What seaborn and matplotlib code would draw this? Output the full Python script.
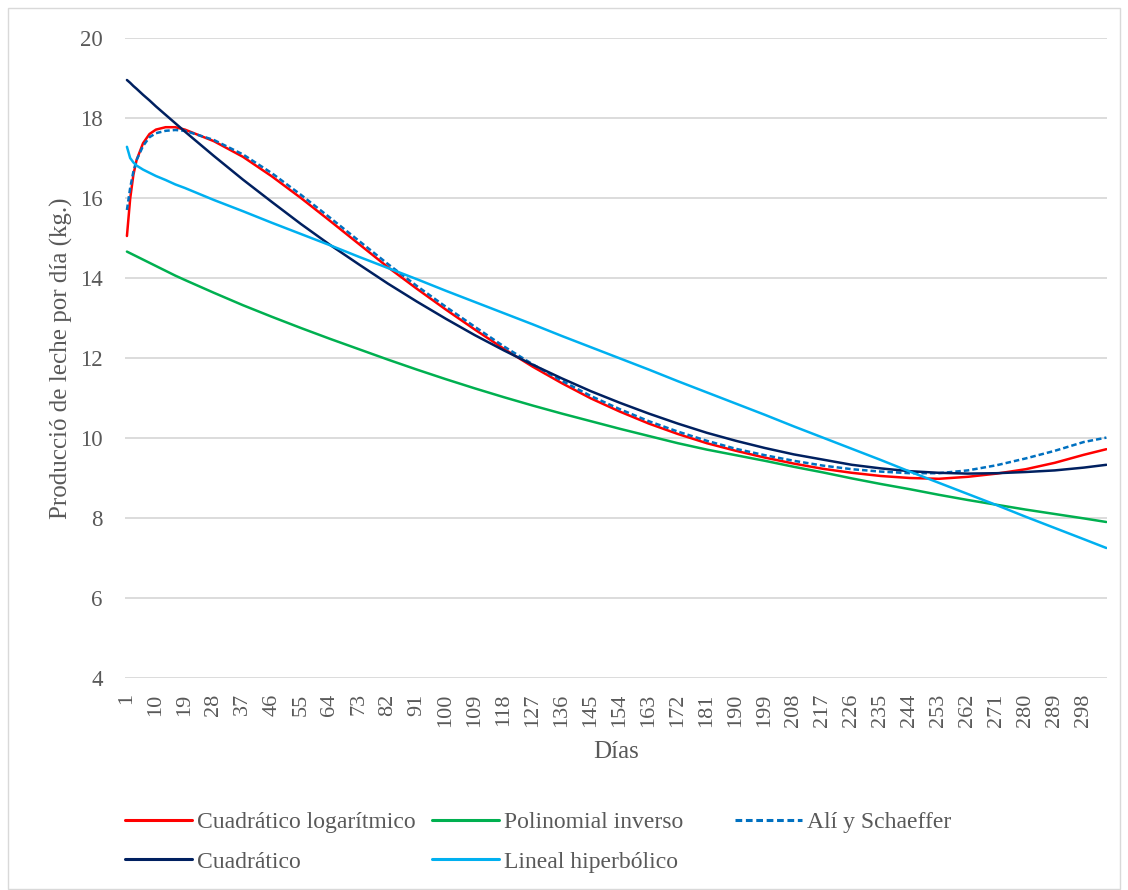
import matplotlib
matplotlib.use("Agg")
import pandas as pd
import seaborn as sns
from matplotlib import pyplot as plt
from matplotlib.lines import Line2D
from matplotlib.patches import Rectangle

dias = [1, 2, 3, 4, 6, 8, 10, 13, 16, 19, 28, 37, 46, 55, 64, 73, 82, 91, 100, 109,
        118, 127, 136, 145, 154, 163, 172, 181, 190, 199, 208, 217, 226, 235, 244, 253,
        262, 271, 280, 289, 298, 305]

cuad_log = [15.05, 15.98, 16.58, 16.95, 17.37, 17.60, 17.71, 17.77, 17.77, 17.71,
            17.42, 17.03, 16.54, 16.00, 15.43, 14.85, 14.27, 13.73, 13.21, 12.71,
            12.23, 11.78, 11.37, 10.99, 10.66, 10.36, 10.10, 9.87, 9.68, 9.51,
            9.36, 9.23, 9.13, 9.05, 9.00, 8.98, 9.03, 9.11, 9.22, 9.38, 9.58, 9.72]

pol_inverso = [14.66, 14.62, 14.58, 14.54, 14.46, 14.38, 14.30, 14.18, 14.06, 13.95,
               13.63, 13.32, 13.03, 12.75, 12.48, 12.22, 11.96, 11.71, 11.47, 11.24,
               11.02, 10.81, 10.61, 10.42, 10.23, 10.05, 9.87, 9.71, 9.57, 9.43,
               9.28, 9.14, 8.99, 8.85, 8.72, 8.58, 8.45, 8.33, 8.21, 8.10, 7.99, 7.90]

ali_schaeffer = [15.70, 16.25, 16.66, 16.95, 17.30, 17.52, 17.62, 17.68, 17.70, 17.68,
                 17.45, 17.09, 16.62, 16.08, 15.51, 14.93, 14.35, 13.80, 13.28, 12.78,
                 12.29, 11.84, 11.43, 11.05, 10.72, 10.42, 10.16, 9.93, 9.73, 9.57,
                 9.43, 9.31, 9.22, 9.16, 9.12, 9.12, 9.19, 9.32, 9.49, 9.68, 9.90, 10.01]

cuadratico = [18.95, 18.88, 18.80, 18.73, 18.58, 18.44, 18.29, 18.08, 17.87, 17.66,
              17.05, 16.46, 15.90, 15.35, 14.83, 14.34, 13.86, 13.41, 12.98, 12.57,
              12.19, 11.83, 11.49, 11.17, 10.88, 10.61, 10.36, 10.13, 9.93, 9.75,
              9.59, 9.46, 9.33, 9.24, 9.17, 9.13, 9.11, 9.12, 9.15, 9.19, 9.26, 9.33]

lineal_hip = [17.28, 17.00, 16.89, 16.81, 16.71, 16.63, 16.55, 16.45, 16.34, 16.25,
              15.95, 15.67, 15.38, 15.10, 14.82, 14.53, 14.25, 13.97, 13.68, 13.40,
              13.12, 12.84, 12.55, 12.27, 11.99, 11.71, 11.42, 11.14, 10.86, 10.58,
              10.29, 10.01, 9.73, 9.45, 9.16, 8.88, 8.60, 8.32, 8.03, 7.75, 7.47, 7.25]

nombres = ["Cuadrático logarítmico", "Polinomial inverso", "Alí y Schaeffer",
           "Cuadrático", "Lineal hiperbólico"]
colores = ["#FF0000", "#00B050", "#0070C0", "#002060", "#00B0F0"]
estilos = ["-", "-", (0, (2.2, 1.2)), "-", "-"]
valores = [cuad_log, pol_inverso, ali_schaeffer, cuadratico, lineal_hip]

sns.set_theme(style="white")
plt.rcParams["font.family"] = ["Liberation Serif", "DejaVu Serif"]
gris = "#595959"

W, H = 1128, 890
fig = plt.figure(figsize=(W / 100, H / 100), dpi=100)
ax = fig.add_axes([125 / W, 1 - 678 / H, 982 / W, 640 / H])

for nombre, vals, color, ls in zip(nombres, valores, colores, estilos):
    df = pd.DataFrame({"Días": dias, "kg": vals})
    sns.lineplot(data=df, x="Días", y="kg", ax=ax, color=color, linewidth=1.8,
                 linestyle=ls, legend=False)

ax.set_xlim(0.4, 305.2)
ax.set_ylim(4, 20)
ax.set_yticks(range(4, 21, 2))
ax.set_xticks(range(1, 299, 9))
ax.tick_params(axis="x", labelrotation=90, pad=11, labelsize=16)
ax.tick_params(axis="y", pad=16, labelsize=16.5)
ax.tick_params(length=0, colors=gris)
ax.grid(axis="y", color="#d9d9d9", linewidth=1.3)
ax.grid(axis="x", visible=False)
ax.set_axisbelow(True)
for s in ax.spines.values():
    s.set_visible(False)

ax.set_xlabel("Días", fontsize=18, color=gris)
ax.set_ylabel("Producció de leche por día (kg.)", fontsize=18, color=gris)
ax.xaxis.set_label_coords(0.5, (678 - 752) / 640)
ax.xaxis.label.set_va("center")
ax.yaxis.set_label_coords((61 - 125) / 982, 0.5)
ax.yaxis.label.set_va("center")

handles = [Line2D([], [], color=c, lw=2.2, linestyle=ls) for c, ls in zip(colores, estilos)]
ley_kw = dict(frameon=False, fontsize=17, handlelength=2.85, handletextpad=0.2,
              borderpad=0, borderaxespad=0, labelspacing=0.78, labelcolor=gris)
columnas = [([0, 3], 125, 842), ([1, 4], 432, 842), ([2], 735, 822)]
for idx, x0, y0 in columnas:
    fig.legend([handles[i] for i in idx], [nombres[i] for i in idx], loc="center left",
               bbox_to_anchor=(x0 / W, 1 - y0 / H), **ley_kw)

fig.patches.append(Rectangle((8 / W, 1 / H), 1112 / W, 881 / H, transform=fig.transFigure,
                             fill=False, edgecolor="#d9d9d9", linewidth=1))

fig.savefig("out.png", dpi=100)
